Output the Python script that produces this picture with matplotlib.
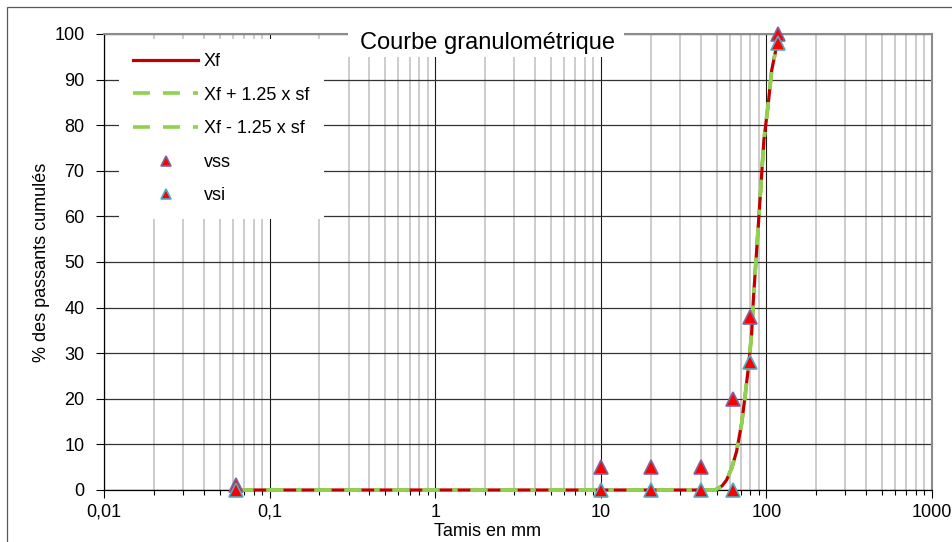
import matplotlib
matplotlib.use('Agg')
import matplotlib.pyplot as plt
from matplotlib.patches import Rectangle
import numpy as np

# ---------------------- Data

# fitted curve Xf and the +/- 1.25 x sf bands (they overlap Xf)
tamis_courbe = [0.063, 45, 49, 54, 57.5, 61.7, 66, 70.9, 74.3, 77.9, 81.5, 83.4,
                90, 96.6, 102.7, 107.7, 114, 117]
xf = [0, 0, 0, 0.9, 2.2, 4.8, 8.4, 14.6, 20.5, 27, 34.4, 41.7,
      59.7, 76.8, 84.8, 92.1, 96.5, 98.5]
xf_plus = [0, 0, 0, 0.9, 2.2, 4.8, 8.4, 14.6, 20.5, 27, 34.4, 41.7,
           59.7, 76.8, 84.8, 92.1, 96.5, 98.5]
xf_moins = [0, 0, 0, 0.9, 2.2, 4.8, 8.4, 14.6, 20.5, 27, 34.4, 41.7,
            59.7, 76.8, 84.8, 92.1, 96.5, 98.5]

# spindle limits
tamis = [0.063, 10, 20, 40, 63, 80, 117]
vss = [1, 5, 5, 5, 20, 38, 100]
vsi = [0, 0, 0, 0, 0, 28, 98]

xticks = [0.01, 0.1, 1, 10, 100, 1000]
xtick_labels = ['0,01', '0,1', '1', '10', '100', '1000']
yticks = list(range(0, 101, 10))

# ---------------------- Figure

plt.rcParams['font.family'] = ['Liberation Sans', 'DejaVu Sans']
plt.rcParams['lines.scale_dashes'] = False

W, H = 952, 542
fig = plt.figure(figsize=(W / 100, H / 100), dpi=100)
ax = fig.add_axes([104 / W, 1 - 490 / H, (932 - 104) / W, (490 - 34) / H])

# outer chart frame
fig.patches.append(Rectangle((7 / W, -0.1), 1.2, 1 - 7 / H + 0.1,
                             transform=fig.transFigure, fill=False,
                             edgecolor='#595959', linewidth=0.9, zorder=0))

ax.set_xscale('log')
ax.set_xlim(0.01, 1000)
ax.set_ylim(0, 100)

# grid
ax.set_xticks(xticks)
ax.set_xticklabels(xtick_labels)
ax.set_xticks([m * 10.0 ** e for e in range(-2, 3) for m in range(2, 10)], minor=True)
ax.xaxis.set_minor_formatter(matplotlib.ticker.NullFormatter())
ax.set_yticks(yticks)
ax.grid(which='minor', axis='x', color='#C4C4C4', linewidth=1.2, zorder=0)
ax.grid(which='major', axis='x', color='#1a1a1a', linewidth=0.8, zorder=0)
ax.grid(which='major', axis='y', color='#333333', linewidth=0.9, zorder=0)
ax.set_axisbelow(True)

ax.tick_params(axis='both', which='major', labelsize=13, length=6, width=0.8,
               direction='out', colors='black')
ax.tick_params(axis='x', which='major', pad=4)
ax.tick_params(axis='y', which='major', pad=8)
ax.tick_params(axis='x', which='minor', length=3.5, width=0.8, direction='out')

for s in ['left', 'bottom']:
    ax.spines[s].set_color('black')
    ax.spines[s].set_linewidth(0.9)
for s in ['top', 'right']:
    ax.spines[s].set_color('#8C8C8C')
    ax.spines[s].set_linewidth(1.5)

# curves
dash = (0, (12.2, 9.4, 12.2, 9.4, 3.6, 9.4))
ax.plot(tamis_courbe, xf, color='#C00000', linewidth=2.3, label='Xf', zorder=3,
        clip_on=False)
ax.plot(tamis_courbe, xf_plus, color='#92D050', linewidth=2.6, linestyle=dash,
        label='Xf + 1.25 x sf', zorder=4, clip_on=False)
ax.plot(tamis_courbe, xf_moins, color='#92D050', linewidth=2.6, linestyle=dash,
        label='Xf - 1.25 x sf', zorder=4, clip_on=False)

ax.plot(tamis, vss, linestyle='none', marker='^', markersize=9.5,
        markerfacecolor='#FF0000', markeredgecolor='#8064A2', markeredgewidth=1.2,
        label='vss', zorder=5, clip_on=False)
ax.plot(tamis, vsi, linestyle='none', marker='^', markersize=9.5,
        markerfacecolor='#FF0000', markeredgecolor='#4BACC6', markeredgewidth=1.2,
        label='vsi', zorder=6, clip_on=False)

leg = ax.legend(loc='upper left', bbox_to_anchor=(0.018, 0.99), fontsize=13,
                frameon=True, fancybox=False, framealpha=1, facecolor='white',
                edgecolor='none', handlelength=3.6, handletextpad=0.3,
                labelspacing=0.92, borderpad=0.8, borderaxespad=0,
                numpoints=1, markerscale=0.8)
leg.set_zorder(10)

# title with white box
fig.patches.append(Rectangle((348 / W, 1 - 57 / H), (624 - 348) / W, 36 / H,
                             transform=fig.transFigure, facecolor='white',
                             edgecolor='none', zorder=20))
fig.text(487.5 / W, 1 - 43 / H, 'Courbe granulométrique', fontsize=17,
         ha='center', va='center', zorder=21)

# axis labels
fig.text(487.5 / W, 1 - 531 / H, 'Tamis en mm', fontsize=13, ha='center', va='center')
fig.text(42 / W, 1 - 262 / H, '% des passants cumulés', fontsize=13,
         ha='center', va='center', rotation=90)

plt.savefig('out.png', dpi=100)
